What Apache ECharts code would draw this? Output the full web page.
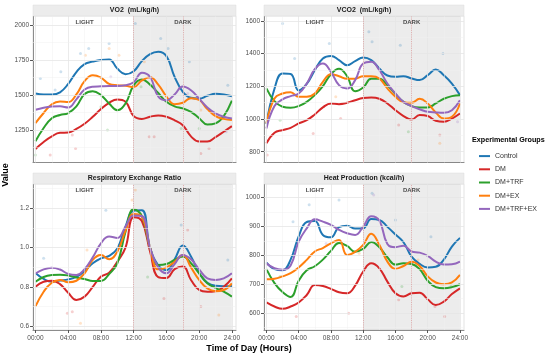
<!DOCTYPE html>
<html><head><meta charset="utf-8">
<script src="https://cdn.jsdelivr.net/npm/echarts@6/dist/echarts.min.js"></script>
<style>html,body{margin:0;padding:0;background:#fff}#c{width:550px;height:356px}</style>
</head><body><div id="c"></div><script>
// ---------------- data ----------------
const hours = [0,1,2,3,4,5,6,7,8,9,10,11,12,13,14,15,16,17,18,19,20,21,22,23,24];
const groups = ['Control','DM','DM+TRF','DM+EX','DM+TRF+EX'];
const panelTitles = ['VO2  (mL/kg/h)','VCO2  (mL/kg/h)','Respiratory Exchange Ratio','Heat Production (kcal/h)'];
const xTickValues = [0,4,8,12,16,20,24];
const xTickLabels = ['00:00','04:00','08:00','12:00','16:00','20:00','24:00'];
const vo2Ticks = [1250,1500,1750,2000];
const vco2Ticks = [800,1000,1200,1400,1600];
const rerTicks = [0.6,0.8,1.0,1.2];
const heatTicks = [600,700,800,900,1000];
const phaseLabels = ['LIGHT','DARK'];
const phaseLabelHours = [6,18];
const darkStart = 12, darkEnd = 24, dividerHours = [12,18];

const vo2Control = [1512,1505,1505,1520,1580,1665,1722,1740,1752,1755,1690,1650,1671,1743,1793,1810,1779,1631,1524,1481,1475,1495,1510,1505,1492];
const vo2DM       = [1115,1165,1205,1230,1232,1258,1295,1345,1400,1445,1468,1452,1350,1330,1345,1355,1345,1320,1285,1205,1168,1168,1200,1238,1278];
const vo2TRF      = [1170,1265,1335,1358,1372,1420,1508,1528,1500,1440,1392,1440,1570,1612,1575,1515,1452,1420,1405,1380,1335,1290,1298,1350,1460];
const vo2EX       = [1300,1372,1435,1455,1450,1505,1600,1642,1625,1580,1570,1567,1558,1605,1628,1575,1490,1435,1445,1478,1465,1400,1350,1330,1322];
const vo2TRFEX    = [1395,1410,1418,1420,1412,1470,1540,1560,1563,1565,1565,1570,1592,1660,1630,1490,1462,1505,1562,1535,1475,1412,1370,1345,1333];

const vco2Control = [970,1185,1278,1275,1175,1215,1299,1370,1386,1360,1329,1354,1376,1360,1309,1266,1258,1262,1248,1238,1268,1303,1268,1217,1146];
const vco2DM      = [851,916,932,946,973,993,1028,1071,1095,1091,1099,1115,1128,1132,1124,1095,1054,1018,997,1024,1018,989,983,1003,1034];
const vco2TRF     = [1187,1109,1075,1069,1079,1105,1146,1201,1274,1307,1262,1170,1193,1246,1246,1207,1152,1105,1079,1071,1071,1095,1124,1140,1146];
const vco2EX      = [973,1126,1156,1164,1136,1136,1156,1227,1274,1262,1246,1246,1262,1262,1248,1187,1136,1103,1099,1124,1095,1040,1003,1014,1095];
const vco2TRFEX   = [942,1079,1120,1140,1156,1217,1305,1339,1288,1207,1187,1238,1339,1350,1299,1217,1156,1105,1079,1060,1044,1040,1038,1054,1115];

const rerControl = [0.87,0.84,0.826,0.832,0.838,0.851,0.88,0.92,0.945,0.958,0.996,1.107,1.188,1.19,1.0,0.91,0.885,0.94,1.01,0.955,0.87,0.82,0.805,0.803,0.804];
const rerDM      = [0.80,0.826,0.831,0.814,0.77,0.733,0.75,0.80,0.852,0.872,0.928,1.0,1.155,1.135,0.98,0.85,0.845,0.89,0.903,0.835,0.784,0.775,0.778,0.80,0.843];
const rerTRF     = [0.826,0.85,0.86,0.862,0.858,0.848,0.84,0.83,0.83,0.865,0.92,1.08,1.195,1.16,1.0,0.911,0.916,0.937,0.954,0.92,0.869,0.818,0.795,0.775,0.75];
const rerEX      = [0.70,0.775,0.821,0.835,0.823,0.831,0.869,0.937,0.962,0.94,0.979,1.086,1.171,1.157,1.0,0.889,0.899,0.928,0.962,0.899,0.835,0.792,0.778,0.784,0.818];
const rerTRFEX   = [0.868,0.889,0.897,0.888,0.866,0.86,0.89,0.95,1.022,1.056,1.049,1.107,1.164,1.161,1.0,0.899,0.869,0.916,0.962,0.94,0.889,0.843,0.835,0.843,0.869];

const heatControl = [775,752,748,785,865,915,918,870,862,897,902,892,893,925,922,898,872,845,795,770,758,760,785,830,860];
const heatDM      = [637,623,615,623,637,663,697,694,684,672,669,695,744,772,755,709,669,658,669,671,648,628,640,666,686];
const heatTRF     = [752,704,673,656,712,748,762,785,815,842,832,812,822,846,828,793,768,772,770,752,712,690,686,690,700];
const heatEX      = [717,719,727,738,758,784,813,825,841,853,801,812,836,874,836,778,753,763,778,763,727,706,700,706,732];
const heatTRFEX   = [772,755,750,765,847,893,924,916,905,888,876,870,899,935,920,839,828,833,813,809,798,778,768,769,778];

// raw observations (hour, value, group index) – faint points
const vo2Points = [[0.6,1619,0],[2.4,1536,0],[3.1,1667,0],[5.5,1798,0],[6.5,1833,0],[9,1869,0],[12.2,2012,0],[15.3,1905,0],[16.2,1833,0],[18.8,1738,0],[23.5,1571,0],
  [1.8,1071,1],[4.5,1214,1],[4.9,1119,1],[13.9,1202,1],[14.5,1202,1],[20.2,1083,1],[21.2,1119,1],
  [0,1071,2],[8,1417,2],[8.8,1250,2],[12.9,1560,2],[17.8,1262,2],[20,1262,2],
  [6.1,1786,3],[9,1833,3],[10.2,1786,3],[13.3,1738,3],[20.2,1393,3],
  [9.2,1631,4],[18.6,1512,4],[23.3,1238,4]];
const vco2Points = [[2,1584,0],[3.5,1370,0],[7.8,1462,0],[12.7,1533,0],[13.1,1472,0],[16.6,1451,0],[21.9,1400,0],
  [0.1,780,1],[5.8,912,1],[9.2,1003,1],[16.4,963,1],[21.5,902,1],
  [1.7,993,2],[17.6,922,2],
  [8.6,1136,3],[21.5,851,3],
  [6.6,1339,4],[23.7,983,4]];
const rerPoints = [[1,0.945,0],[8.6,1.19,0],[17.8,1.115,0],[23.5,0.937,0],
  [3.9,0.665,1],[4.5,0.673,1],[15.7,0.741,1],[18.6,1.09,1],[20.2,0.70,1],
  [13.7,0.85,2],
  [5.5,0.614,3],[6.3,0.988,3],[11.8,1.242,3],[12.2,1.293,3],[22.4,0.656,3],
  [7.6,0.937,4]];
const heatPoints = [[3.3,916,0],[5.3,974,0],[9,991,0],[13.1,1014,0],[16,922,0],[20.4,864,0],
  [3.7,589,1],[10.2,600,1],[16.4,646,1],[20.9,623,1],[22.1,589,1],
  [1.7,727,2],[16.8,692,2],[22.9,698,2],
  [11.5,807,3],[18.8,784,3],
  [7.4,841,4],[13.3,1008,4]];

// ---------------- layout / style ----------------
const colors = ['#1f77b4','#d62728','#2ca02c','#ff7f0e','#9467bd'];
const panels = [
  {grid:{left:33,top:16,width:203,height:146.5}, y:[1018,2066], ticks:vo2Ticks, lines:[vo2Control,vo2DM,vo2TRF,vo2EX,vo2TRFEX], pts:vo2Points, bottom:false, dec:0},
  {grid:{left:264,top:16,width:200,height:146.5}, y:[734,1630], ticks:vco2Ticks, lines:[vco2Control,vco2DM,vco2TRF,vco2EX,vco2TRFEX], pts:vco2Points, bottom:false, dec:0},
  {grid:{left:33,top:184,width:203,height:146}, y:[0.58,1.324], ticks:rerTicks, lines:[rerControl,rerDM,rerTRF,rerEX,rerTRFEX], pts:rerPoints, bottom:true, dec:1},
  {grid:{left:264,top:184,width:200,height:146}, y:[542,1046], ticks:heatTicks, lines:[heatControl,heatDM,heatTRF,heatEX,heatTRFEX], pts:heatPoints, bottom:true, dec:0}
];
const XMIN = -0.3, XMAX = 24.5;
const FONT = 'Liberation Sans, Arial, sans-serif';

const grids = [], xAxes = [], yAxes = [], series = [], graphics = [];
panels.forEach((p, i) => {
  grids.push(Object.assign({show:true, borderColor:'#e3e3e3', borderWidth:1, backgroundColor:'#fff'}, p.grid));
  xAxes.push({type:'value', gridIndex:i, min:XMIN, max:XMAX,
    axisLine:{show:true, onZero:false, lineStyle:{color:'#8c8c8c', width:1}},
    axisTick:{show:p.bottom, customValues:xTickValues, length:3, lineStyle:{color:'#555'}},
    axisLabel:{show:p.bottom, customValues:xTickValues, fontSize:6.5, color:'#4d4d4d', fontFamily:FONT, margin:5,
      formatter:v => xTickLabels[xTickValues.indexOf(v)] || ''},
    splitLine:{show:false}});
  yAxes.push({type:'value', gridIndex:i, min:p.y[0], max:p.y[1],
    axisLine:{show:true, onZero:false, lineStyle:{color:'#8c8c8c', width:1}},
    axisTick:{show:true, customValues:p.ticks, length:3, lineStyle:{color:'#555'}},
    axisLabel:{customValues:p.ticks, fontSize:6.5, color:'#4d4d4d', fontFamily:FONT, margin:4,
      formatter:v => v.toFixed(p.dec)},
    splitLine:{show:false}});
  // grid lines and dark shading
  const ml = [];
  for (let h = 0; h <= 24; h += 2) ml.push({xAxis:h, lineStyle:{color: h%4===0 ? '#e6e6e6' : '#f1f1f1', width: h%4===0 ? 0.8 : 0.5, type:'solid'}});
  const step = p.ticks[1]-p.ticks[0];
  for (let k = -1; k < p.ticks.length; k++) {
    const major = p.ticks[0] + k*step;
    const minor = major + step/2;
    if (major >= p.y[0] && major <= p.y[1]) ml.push({yAxis:major, lineStyle:{color:'#e6e6e6', width:0.8, type:'solid'}});
    if (minor >= p.y[0] && minor <= p.y[1]) ml.push({yAxis:minor, lineStyle:{color:'#f1f1f1', width:0.5, type:'solid'}});
  }
  series.push({type:'line', xAxisIndex:i, yAxisIndex:i, data:[], z:1, silent:true,
    markArea:{silent:true, itemStyle:{color:'rgba(0,0,0,0.075)'}, data:[[{xAxis:darkStart},{xAxis:darkEnd}]]},
    markLine:{silent:true, symbol:['none','none'], label:{show:false}, animation:false, data:ml}});
  // dotted phase dividers (own series)
  series.push({type:'line', xAxisIndex:i, yAxisIndex:i, data:[], z:1, silent:true,
    markLine:{silent:true, symbol:['none','none'], label:{show:false}, animation:false,
      data:dividerHours.map(h => ({xAxis:h, lineStyle:{color:'#d9a3a3', width:0.9, type:'dotted'}}))}});
  // raw points (unnamed so legend uses the lines)
  groups.forEach((g, gi) => {
    series.push({type:'scatter', xAxisIndex:i, yAxisIndex:i, z:2, silent:true,
      symbolSize:3, itemStyle:{color:colors[gi], opacity:0.22},
      data:p.pts.filter(d => d[2]===gi).map(d => [d[0], d[1]])});
  });
  // smoothed lines
  groups.forEach((g, gi) => {
    series.push({type:'line', name:g, xAxisIndex:i, yAxisIndex:i, z:3, smooth:0.45, showSymbol:false, symbol:'none',
      lineStyle:{color:colors[gi], width:2, type:'solid', opacity:1}, itemStyle:{color:colors[gi]},
      emphasis:{disabled:true},
      data:hours.map((h, k) => [h, p.lines[gi][k]])});
  });
  // strip
  graphics.push({type:'rect', shape:{x:p.grid.left, y:p.grid.top-11, width:p.grid.width, height:11},
    style:{fill:'#ececec', stroke:'#dcdcdc', lineWidth:0.5}, z:10});
  graphics.push({type:'text', x:p.grid.left+p.grid.width/2, y:p.grid.top-5.5,
    style:{text:panelTitles[i], font:'bold 7px '+FONT, fill:'#1a1a1a', textAlign:'center', textVerticalAlign:'middle'}, z:11});
});

const chart = echarts.init(document.getElementById('c'), null, {renderer:'canvas'});
graphics.push({type:'text', x:6, y:175, rotation:Math.PI/2,
  style:{text:'Value', font:'bold 9px '+FONT, fill:'#000', textAlign:'center', textVerticalAlign:'middle'}});
graphics.push({type:'text', x:249, y:349,
  style:{text:'Time of Day (Hours)', font:'bold 9px '+FONT, fill:'#000', textAlign:'center', textVerticalAlign:'middle'}});
graphics.push({type:'text', x:472, y:140,
  style:{text:'Experimental Groups', font:'bold 7.2px '+FONT, fill:'#000', textAlign:'left', textVerticalAlign:'middle'}});

chart.setOption({
  animation:false,
  grid:grids, xAxis:xAxes, yAxis:yAxes, series:series,
  legend:{data:groups.map((g, gi) => ({name:g, itemStyle:{color:colors[gi], opacity:1}})),
    orient:'vertical', left:474, top:147, icon:'rect', itemWidth:11, itemHeight:2, itemGap:5,
    textStyle:{fontSize:7, color:'#333', fontFamily:FONT, lineHeight:8.2}, selectedMode:false},
  graphic:graphics
});
// LIGHT / DARK labels placed at data positions
const extra = [];
panels.forEach((p, i) => {
  phaseLabels.forEach((t, k) => {
    const pt = chart.convertToPixel({gridIndex:i}, [phaseLabelHours[k], p.y[1]]);
    extra.push({type:'text', x:pt[0], y:pt[1]+6,
      style:{text:t, font:'bold 6px '+FONT, fill:'#4d4d4d', textAlign:'center', textVerticalAlign:'middle'}, z:12});
  });
});
chart.setOption({graphic:graphics.concat(extra)});
</script></body></html>
